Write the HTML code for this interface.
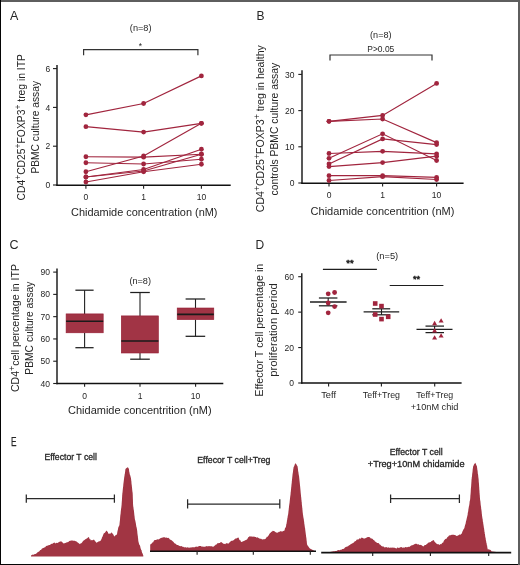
<!DOCTYPE html>
<html><head><meta charset="utf-8"><style>
html,body{margin:0;padding:0;background:#fff;}
#wrap{position:relative;width:520px;height:565px;overflow:hidden;background:#fff;}
svg{position:absolute;left:0;top:0;will-change:transform;font-family:"Liberation Sans",sans-serif;}
.b{position:absolute;}
</style></head><body><div id="wrap">
<svg width="520" height="565" viewBox="0 0 520 565">
<text x="10" y="20" font-size="12.5" text-anchor="start" fill="#262626" >A</text>
<text x="256.5" y="20.2" font-size="12" text-anchor="start" fill="#262626" >B</text>
<text x="9.5" y="249.1" font-size="12.5" text-anchor="start" fill="#262626" >C</text>
<text x="255.5" y="248.5" font-size="12" text-anchor="start" fill="#262626" >D</text>
<text x="11" y="446.2" font-size="12" text-anchor="start" fill="#262626" textLength="5.5" lengthAdjust="spacingAndGlyphs" stroke="#262626" stroke-width="0.25">E</text>
<line x1="57" y1="65" x2="57" y2="186" stroke="#111" stroke-width="1.4"/>
<line x1="56.3" y1="185.3" x2="230.7" y2="185.3" stroke="#111" stroke-width="1.4"/>
<line x1="53" y1="185.0" x2="57" y2="185.0" stroke="#1e1e1e" stroke-width="1.1"/>
<text x="50.3" y="188.2" font-size="9.8" text-anchor="end" fill="#262626" textLength="4.75" lengthAdjust="spacingAndGlyphs" >0</text>
<line x1="53" y1="146.2" x2="57" y2="146.2" stroke="#1e1e1e" stroke-width="1.1"/>
<text x="50.3" y="149.39999999999998" font-size="9.8" text-anchor="end" fill="#262626" textLength="4.75" lengthAdjust="spacingAndGlyphs" >2</text>
<line x1="53" y1="107.4" x2="57" y2="107.4" stroke="#1e1e1e" stroke-width="1.1"/>
<text x="50.3" y="110.60000000000001" font-size="9.8" text-anchor="end" fill="#262626" textLength="4.75" lengthAdjust="spacingAndGlyphs" >4</text>
<line x1="53" y1="68.60000000000001" x2="57" y2="68.60000000000001" stroke="#1e1e1e" stroke-width="1.1"/>
<text x="50.3" y="71.80000000000001" font-size="9.8" text-anchor="end" fill="#262626" textLength="4.75" lengthAdjust="spacingAndGlyphs" >6</text>
<line x1="85.9" y1="185" x2="85.9" y2="188.8" stroke="#1e1e1e" stroke-width="1.1"/>
<text x="85.9" y="200.1" font-size="9.8" text-anchor="middle" fill="#262626" textLength="4.75" lengthAdjust="spacingAndGlyphs" >0</text>
<line x1="143.6" y1="185" x2="143.6" y2="188.8" stroke="#1e1e1e" stroke-width="1.1"/>
<text x="143.6" y="200.1" font-size="9.8" text-anchor="middle" fill="#262626" textLength="4.75" lengthAdjust="spacingAndGlyphs" >1</text>
<line x1="201.4" y1="185" x2="201.4" y2="188.8" stroke="#1e1e1e" stroke-width="1.1"/>
<text x="201.4" y="200.1" font-size="9.8" text-anchor="middle" fill="#262626" textLength="9.5" lengthAdjust="spacingAndGlyphs" >10</text>
<text x="71" y="216.3" font-size="10.4" text-anchor="start" fill="#262626" textLength="146.5" lengthAdjust="spacingAndGlyphs" >Chidamide concentration (nM)</text>
<text transform="translate(25.2,127.3) rotate(-90)" x="0" y="0" font-size="10.4" text-anchor="middle" fill="#262626" textLength="146.4" lengthAdjust="spacingAndGlyphs">CD4<tspan dy="-4.2" font-size="8.6">+</tspan><tspan dy="4.2">CD25<tspan dy="-4.2" font-size="8.6">+</tspan><tspan dy="4.2">FOXP3<tspan dy="-4.2" font-size="8.6">+</tspan><tspan dy="4.2"> treg in ITP</tspan></tspan></tspan></text>
<text transform="translate(39,127.3) rotate(-90)" x="0" y="0" font-size="10.4" text-anchor="middle" fill="#262626" textLength="92.6" lengthAdjust="spacingAndGlyphs">PBMC culture assay</text>
<text x="140.7" y="31.0" font-size="8.2" text-anchor="middle" fill="#262626" textLength="21.7" lengthAdjust="spacingAndGlyphs" >(n=8)</text>
<text x="140.5" y="49.3" font-size="8.5" text-anchor="middle" fill="#262626" >*</text>
<path d="M83.6,55.3 V49.7 H197.9 V55.3" fill="none" stroke="#333" stroke-width="1.2"/>
<polyline points="85.9,114.8 143.6,103.5 201.4,75.9" fill="none" stroke="#a1253e" stroke-width="1.2"/>
<polyline points="85.9,126.7 143.6,132.1 201.4,123.3" fill="none" stroke="#a1253e" stroke-width="1.2"/>
<polyline points="85.9,171.75 143.6,156 201.4,123.3" fill="none" stroke="#a1253e" stroke-width="1.2"/>
<polyline points="85.9,156.75 143.6,157.2 201.4,154.25" fill="none" stroke="#a1253e" stroke-width="1.2"/>
<polyline points="85.9,162.75 143.6,164 201.4,159.25" fill="none" stroke="#a1253e" stroke-width="1.2"/>
<polyline points="85.9,177 143.6,169.5 201.4,149.25" fill="none" stroke="#a1253e" stroke-width="1.2"/>
<polyline points="85.9,182 143.6,171.75 201.4,164.25" fill="none" stroke="#a1253e" stroke-width="1.2"/>
<polyline points="85.9,177 143.6,171 201.4,154.25" fill="none" stroke="#a1253e" stroke-width="1.2"/>
<circle cx="85.9" cy="114.8" r="2.4" fill="#a1253e"/>
<circle cx="143.6" cy="103.5" r="2.4" fill="#a1253e"/>
<circle cx="201.4" cy="75.9" r="2.4" fill="#a1253e"/>
<circle cx="85.9" cy="126.7" r="2.4" fill="#a1253e"/>
<circle cx="143.6" cy="132.1" r="2.4" fill="#a1253e"/>
<circle cx="201.4" cy="123.3" r="2.4" fill="#a1253e"/>
<circle cx="85.9" cy="171.75" r="2.4" fill="#a1253e"/>
<circle cx="143.6" cy="156" r="2.4" fill="#a1253e"/>
<circle cx="201.4" cy="123.3" r="2.4" fill="#a1253e"/>
<circle cx="85.9" cy="156.75" r="2.4" fill="#a1253e"/>
<circle cx="143.6" cy="157.2" r="2.4" fill="#a1253e"/>
<circle cx="201.4" cy="154.25" r="2.4" fill="#a1253e"/>
<circle cx="85.9" cy="162.75" r="2.4" fill="#a1253e"/>
<circle cx="143.6" cy="164" r="2.4" fill="#a1253e"/>
<circle cx="201.4" cy="159.25" r="2.4" fill="#a1253e"/>
<circle cx="85.9" cy="177" r="2.4" fill="#a1253e"/>
<circle cx="143.6" cy="169.5" r="2.4" fill="#a1253e"/>
<circle cx="201.4" cy="149.25" r="2.4" fill="#a1253e"/>
<circle cx="85.9" cy="182" r="2.4" fill="#a1253e"/>
<circle cx="143.6" cy="171.75" r="2.4" fill="#a1253e"/>
<circle cx="201.4" cy="164.25" r="2.4" fill="#a1253e"/>
<circle cx="85.9" cy="177" r="2.4" fill="#a1253e"/>
<circle cx="143.6" cy="171" r="2.4" fill="#a1253e"/>
<circle cx="201.4" cy="154.25" r="2.4" fill="#a1253e"/>
<line x1="302" y1="70.2" x2="302" y2="183.9" stroke="#111" stroke-width="1.4"/>
<line x1="301.3" y1="183.2" x2="463.6" y2="183.2" stroke="#111" stroke-width="1.4"/>
<line x1="298.3" y1="183.0" x2="302" y2="183.0" stroke="#1e1e1e" stroke-width="1.1"/>
<text x="294.5" y="186.2" font-size="9.8" text-anchor="end" fill="#262626" textLength="4.75" lengthAdjust="spacingAndGlyphs" >0</text>
<line x1="298.3" y1="146.8" x2="302" y2="146.8" stroke="#1e1e1e" stroke-width="1.1"/>
<text x="294.5" y="150.0" font-size="9.8" text-anchor="end" fill="#262626" textLength="9.5" lengthAdjust="spacingAndGlyphs" >10</text>
<line x1="298.3" y1="110.6" x2="302" y2="110.6" stroke="#1e1e1e" stroke-width="1.1"/>
<text x="294.5" y="113.8" font-size="9.8" text-anchor="end" fill="#262626" textLength="9.5" lengthAdjust="spacingAndGlyphs" >20</text>
<line x1="298.3" y1="74.39999999999999" x2="302" y2="74.39999999999999" stroke="#1e1e1e" stroke-width="1.1"/>
<text x="294.5" y="77.6" font-size="9.8" text-anchor="end" fill="#262626" textLength="9.5" lengthAdjust="spacingAndGlyphs" >30</text>
<line x1="329" y1="183" x2="329" y2="186.6" stroke="#1e1e1e" stroke-width="1.1"/>
<text x="329" y="198.4" font-size="9.8" text-anchor="middle" fill="#262626" textLength="4.75" lengthAdjust="spacingAndGlyphs" >0</text>
<line x1="382.6" y1="183" x2="382.6" y2="186.6" stroke="#1e1e1e" stroke-width="1.1"/>
<text x="382.6" y="198.4" font-size="9.8" text-anchor="middle" fill="#262626" textLength="4.75" lengthAdjust="spacingAndGlyphs" >1</text>
<line x1="436.6" y1="183" x2="436.6" y2="186.6" stroke="#1e1e1e" stroke-width="1.1"/>
<text x="436.6" y="198.4" font-size="9.8" text-anchor="middle" fill="#262626" textLength="9.5" lengthAdjust="spacingAndGlyphs" >10</text>
<text x="310.6" y="214.5" font-size="10.4" text-anchor="start" fill="#262626" textLength="143.8" lengthAdjust="spacingAndGlyphs" >Chidamide concentrition (nM)</text>
<text transform="translate(264,128.65) rotate(-90)" x="0" y="0" font-size="10.4" text-anchor="middle" fill="#262626" textLength="167.1" lengthAdjust="spacingAndGlyphs">CD4<tspan dy="-4.2" font-size="8.6">+</tspan><tspan dy="4.2">CD25<tspan dy="-4.2" font-size="8.6">+</tspan><tspan dy="4.2">FOXP3<tspan dy="-4.2" font-size="8.6">+</tspan><tspan dy="4.2"> treg in healthy</tspan></tspan></tspan></text>
<text transform="translate(278,129.15) rotate(-90)" x="0" y="0" font-size="10.4" text-anchor="middle" fill="#262626" textLength="132.7" lengthAdjust="spacingAndGlyphs">controls PBMC culture assay</text>
<text x="380.8" y="38.1" font-size="8.2" text-anchor="middle" fill="#262626" textLength="21.5" lengthAdjust="spacingAndGlyphs" >(n=8)</text>
<text x="380.8" y="51.5" font-size="8.3" text-anchor="middle" fill="#262626" textLength="27" lengthAdjust="spacingAndGlyphs" >P&gt;0.05</text>
<path d="M330,60.5 V55 H432 V60.5" fill="none" stroke="#333" stroke-width="1.2"/>
<polyline points="329,121.3 382.6,115.4 436.6,83.4" fill="none" stroke="#a1253e" stroke-width="1.2"/>
<polyline points="329,121.3 382.6,119 436.6,142.6" fill="none" stroke="#a1253e" stroke-width="1.2"/>
<polyline points="329,153.5 382.6,151.3 436.6,153.8" fill="none" stroke="#a1253e" stroke-width="1.2"/>
<polyline points="329,158.3 382.6,133.8 436.6,160.5" fill="none" stroke="#a1253e" stroke-width="1.2"/>
<polyline points="329,164 382.6,138.9 436.6,144.6" fill="none" stroke="#a1253e" stroke-width="1.2"/>
<polyline points="329,166.6 382.6,162.6 436.6,156.2" fill="none" stroke="#a1253e" stroke-width="1.2"/>
<polyline points="329,175.7 382.6,175.7 436.6,177.4" fill="none" stroke="#a1253e" stroke-width="1.2"/>
<polyline points="329,180.5 382.6,176.7 436.6,179.5" fill="none" stroke="#a1253e" stroke-width="1.2"/>
<circle cx="329" cy="121.3" r="2.4" fill="#a1253e"/>
<circle cx="382.6" cy="115.4" r="2.4" fill="#a1253e"/>
<circle cx="436.6" cy="83.4" r="2.4" fill="#a1253e"/>
<circle cx="329" cy="121.3" r="2.4" fill="#a1253e"/>
<circle cx="382.6" cy="119" r="2.4" fill="#a1253e"/>
<circle cx="436.6" cy="142.6" r="2.4" fill="#a1253e"/>
<circle cx="329" cy="153.5" r="2.4" fill="#a1253e"/>
<circle cx="382.6" cy="151.3" r="2.4" fill="#a1253e"/>
<circle cx="436.6" cy="153.8" r="2.4" fill="#a1253e"/>
<circle cx="329" cy="158.3" r="2.4" fill="#a1253e"/>
<circle cx="382.6" cy="133.8" r="2.4" fill="#a1253e"/>
<circle cx="436.6" cy="160.5" r="2.4" fill="#a1253e"/>
<circle cx="329" cy="164" r="2.4" fill="#a1253e"/>
<circle cx="382.6" cy="138.9" r="2.4" fill="#a1253e"/>
<circle cx="436.6" cy="144.6" r="2.4" fill="#a1253e"/>
<circle cx="329" cy="166.6" r="2.4" fill="#a1253e"/>
<circle cx="382.6" cy="162.6" r="2.4" fill="#a1253e"/>
<circle cx="436.6" cy="156.2" r="2.4" fill="#a1253e"/>
<circle cx="329" cy="175.7" r="2.4" fill="#a1253e"/>
<circle cx="382.6" cy="175.7" r="2.4" fill="#a1253e"/>
<circle cx="436.6" cy="177.4" r="2.4" fill="#a1253e"/>
<circle cx="329" cy="180.5" r="2.4" fill="#a1253e"/>
<circle cx="382.6" cy="176.7" r="2.4" fill="#a1253e"/>
<circle cx="436.6" cy="179.5" r="2.4" fill="#a1253e"/>
<line x1="57" y1="268.6" x2="57" y2="384.2" stroke="#111" stroke-width="1.4"/>
<line x1="56.3" y1="383.5" x2="223.3" y2="383.5" stroke="#111" stroke-width="1.4"/>
<line x1="53.2" y1="383.5" x2="57" y2="383.5" stroke="#1e1e1e" stroke-width="1.1"/>
<text x="49.9" y="386.6" font-size="9.8" text-anchor="end" fill="#262626" textLength="9.5" lengthAdjust="spacingAndGlyphs" >40</text>
<line x1="53.2" y1="361.22" x2="57" y2="361.22" stroke="#1e1e1e" stroke-width="1.1"/>
<text x="49.9" y="364.32000000000005" font-size="9.8" text-anchor="end" fill="#262626" textLength="9.5" lengthAdjust="spacingAndGlyphs" >50</text>
<line x1="53.2" y1="338.94" x2="57" y2="338.94" stroke="#1e1e1e" stroke-width="1.1"/>
<text x="49.9" y="342.04" font-size="9.8" text-anchor="end" fill="#262626" textLength="9.5" lengthAdjust="spacingAndGlyphs" >60</text>
<line x1="53.2" y1="316.65999999999997" x2="57" y2="316.65999999999997" stroke="#1e1e1e" stroke-width="1.1"/>
<text x="49.9" y="319.76" font-size="9.8" text-anchor="end" fill="#262626" textLength="9.5" lengthAdjust="spacingAndGlyphs" >70</text>
<line x1="53.2" y1="294.38" x2="57" y2="294.38" stroke="#1e1e1e" stroke-width="1.1"/>
<text x="49.9" y="297.48" font-size="9.8" text-anchor="end" fill="#262626" textLength="9.5" lengthAdjust="spacingAndGlyphs" >80</text>
<line x1="53.2" y1="272.1" x2="57" y2="272.1" stroke="#1e1e1e" stroke-width="1.1"/>
<text x="49.9" y="275.20000000000005" font-size="9.8" text-anchor="end" fill="#262626" textLength="9.5" lengthAdjust="spacingAndGlyphs" >90</text>
<line x1="84.6" y1="383.5" x2="84.6" y2="386.8" stroke="#1e1e1e" stroke-width="1.1"/>
<text x="84.6" y="398.6" font-size="9.8" text-anchor="middle" fill="#262626" textLength="4.75" lengthAdjust="spacingAndGlyphs" >0</text>
<line x1="140" y1="383.5" x2="140" y2="386.8" stroke="#1e1e1e" stroke-width="1.1"/>
<text x="140" y="398.6" font-size="9.8" text-anchor="middle" fill="#262626" textLength="4.75" lengthAdjust="spacingAndGlyphs" >1</text>
<line x1="195.6" y1="383.5" x2="195.6" y2="386.8" stroke="#1e1e1e" stroke-width="1.1"/>
<text x="195.6" y="398.6" font-size="9.8" text-anchor="middle" fill="#262626" textLength="9.5" lengthAdjust="spacingAndGlyphs" >10</text>
<text x="68" y="414.4" font-size="10.4" text-anchor="start" fill="#262626" textLength="143.7" lengthAdjust="spacingAndGlyphs" >Chidamide concentrition (nM)</text>
<text transform="translate(18.8,328) rotate(-90)" x="0" y="0" font-size="10.4" text-anchor="middle" fill="#262626" textLength="128" lengthAdjust="spacingAndGlyphs">CD4<tspan dy="-4.2" font-size="8.6">+</tspan><tspan dy="4.2">cell percentage in ITP</tspan></text>
<text transform="translate(32.8,328.1) rotate(-90)" x="0" y="0" font-size="10.4" text-anchor="middle" fill="#262626" textLength="93.1" lengthAdjust="spacingAndGlyphs">PBMC culture assay</text>
<text x="140.2" y="283.7" font-size="8.2" text-anchor="middle" fill="#262626" textLength="21.6" lengthAdjust="spacingAndGlyphs" >(n=8)</text>
<line x1="84.6" y1="290.2" x2="84.6" y2="313.9" stroke="#222" stroke-width="1.1"/>
<line x1="84.6" y1="332.8" x2="84.6" y2="347.7" stroke="#222" stroke-width="1.1"/>
<line x1="75.4" y1="290.2" x2="93.6" y2="290.2" stroke="#1e1e1e" stroke-width="1.25"/>
<line x1="75.4" y1="347.7" x2="93.6" y2="347.7" stroke="#1e1e1e" stroke-width="1.25"/>
<rect x="66.1" y="313.9" width="37.10000000000001" height="18.900000000000034" fill="#a13445" stroke="#961d33" stroke-width="0.6"/>
<line x1="66.1" y1="321.2" x2="103.2" y2="321.2" stroke="#1a1a1a" stroke-width="1.6"/>
<line x1="140" y1="292.5" x2="140" y2="315.9" stroke="#222" stroke-width="1.1"/>
<line x1="140" y1="353" x2="140" y2="359.2" stroke="#222" stroke-width="1.1"/>
<line x1="130.2" y1="292.5" x2="149.8" y2="292.5" stroke="#1e1e1e" stroke-width="1.25"/>
<line x1="130.2" y1="359.2" x2="149.8" y2="359.2" stroke="#1e1e1e" stroke-width="1.25"/>
<rect x="121.3" y="315.9" width="37.10000000000001" height="37.10000000000002" fill="#a13445" stroke="#961d33" stroke-width="0.6"/>
<line x1="121.3" y1="341" x2="158.4" y2="341" stroke="#1a1a1a" stroke-width="1.6"/>
<line x1="195.5" y1="299" x2="195.5" y2="308" stroke="#222" stroke-width="1.1"/>
<line x1="195.5" y1="319.6" x2="195.5" y2="336.3" stroke="#222" stroke-width="1.1"/>
<line x1="185.6" y1="299" x2="205.2" y2="299" stroke="#1e1e1e" stroke-width="1.25"/>
<line x1="185.6" y1="336.3" x2="205.2" y2="336.3" stroke="#1e1e1e" stroke-width="1.25"/>
<rect x="177.2" y="308" width="36.60000000000002" height="11.600000000000023" fill="#a13445" stroke="#961d33" stroke-width="0.6"/>
<line x1="177.2" y1="314.4" x2="213.8" y2="314.4" stroke="#1a1a1a" stroke-width="1.6"/>
<line x1="301.8" y1="273.3" x2="301.8" y2="383.7" stroke="#111" stroke-width="1.4"/>
<line x1="301.1" y1="383" x2="461.6" y2="383" stroke="#111" stroke-width="1.4"/>
<line x1="298.2" y1="383.0" x2="301.5" y2="383.0" stroke="#1e1e1e" stroke-width="1.1"/>
<text x="294" y="386.1" font-size="9.8" text-anchor="end" fill="#262626" textLength="4.75" lengthAdjust="spacingAndGlyphs" >0</text>
<line x1="298.2" y1="347.56600000000003" x2="301.5" y2="347.56600000000003" stroke="#1e1e1e" stroke-width="1.1"/>
<text x="294" y="350.66600000000005" font-size="9.8" text-anchor="end" fill="#262626" textLength="9.5" lengthAdjust="spacingAndGlyphs" >20</text>
<line x1="298.2" y1="312.132" x2="301.5" y2="312.132" stroke="#1e1e1e" stroke-width="1.1"/>
<text x="294" y="315.232" font-size="9.8" text-anchor="end" fill="#262626" textLength="9.5" lengthAdjust="spacingAndGlyphs" >40</text>
<line x1="298.2" y1="276.698" x2="301.5" y2="276.698" stroke="#1e1e1e" stroke-width="1.1"/>
<text x="294" y="279.798" font-size="9.8" text-anchor="end" fill="#262626" textLength="9.5" lengthAdjust="spacingAndGlyphs" >60</text>
<line x1="328.6" y1="383" x2="328.6" y2="386.5" stroke="#1e1e1e" stroke-width="1.1"/>
<line x1="381.4" y1="383" x2="381.4" y2="386.5" stroke="#1e1e1e" stroke-width="1.1"/>
<line x1="434.7" y1="383" x2="434.7" y2="386.5" stroke="#1e1e1e" stroke-width="1.1"/>
<text x="328.6" y="398.4" font-size="9.2" text-anchor="middle" fill="#262626" textLength="14.8" lengthAdjust="spacingAndGlyphs" >Teff</text>
<text x="381.4" y="398.4" font-size="9.2" text-anchor="middle" fill="#262626" textLength="37.2" lengthAdjust="spacingAndGlyphs" >Teff+Treg</text>
<text x="434.7" y="398.4" font-size="9.2" text-anchor="middle" fill="#262626" textLength="37" lengthAdjust="spacingAndGlyphs" >Teff+Treg</text>
<text x="434.6" y="409.9" font-size="9.2" text-anchor="middle" fill="#262626" textLength="47.7" lengthAdjust="spacingAndGlyphs" >+10nM chid</text>
<text transform="translate(263.3,330.2) rotate(-90)" x="0" y="0" font-size="10.4" text-anchor="middle" fill="#262626" textLength="133" lengthAdjust="spacingAndGlyphs">Effector T cell percentage in</text>
<text transform="translate(277,330.05) rotate(-90)" x="0" y="0" font-size="10.4" text-anchor="middle" fill="#262626" textLength="93.6" lengthAdjust="spacingAndGlyphs">proliferation period</text>
<text x="387.2" y="259.2" font-size="8.2" text-anchor="middle" fill="#262626" textLength="22" lengthAdjust="spacingAndGlyphs" >(n=5)</text>
<line x1="322.9" y1="269.3" x2="376.9" y2="269.3" stroke="#1e1e1e" stroke-width="1.2"/>
<line x1="389.7" y1="285.5" x2="443.4" y2="285.5" stroke="#1e1e1e" stroke-width="1.2"/>
<text x="350" y="265.8" font-size="8.5" text-anchor="middle" fill="#262626" textLength="7.4" lengthAdjust="spacingAndGlyphs" stroke="#262626" stroke-width="0.5">**</text>
<text x="416.5" y="281.9" font-size="8.5" text-anchor="middle" fill="#262626" textLength="7.2" lengthAdjust="spacingAndGlyphs" stroke="#262626" stroke-width="0.5">**</text>
<line x1="310" y1="302" x2="346.6" y2="302" stroke="#1e1e1e" stroke-width="1.4"/>
<line x1="318.9" y1="298" x2="337.4" y2="298" stroke="#1e1e1e" stroke-width="1.25"/>
<line x1="318.9" y1="305.8" x2="337.4" y2="305.8" stroke="#1e1e1e" stroke-width="1.25"/>
<line x1="328.2" y1="298" x2="328.2" y2="305.8" stroke="#1e1e1e" stroke-width="1.1"/>
<circle cx="328.2" cy="293.8" r="2.4" fill="#a1253e"/>
<circle cx="334.6" cy="292.5" r="2.4" fill="#a1253e"/>
<circle cx="328.2" cy="303" r="2.4" fill="#a1253e"/>
<circle cx="334.6" cy="306.6" r="2.4" fill="#a1253e"/>
<circle cx="328.2" cy="312.8" r="2.4" fill="#a1253e"/>
<line x1="363.6" y1="311.9" x2="399.2" y2="311.9" stroke="#1e1e1e" stroke-width="1.4"/>
<line x1="372.3" y1="308.8" x2="390.2" y2="308.8" stroke="#1e1e1e" stroke-width="1.25"/>
<line x1="372.3" y1="314.8" x2="390.2" y2="314.8" stroke="#1e1e1e" stroke-width="1.25"/>
<line x1="381.5" y1="308.8" x2="381.5" y2="314.8" stroke="#1e1e1e" stroke-width="1.1"/>
<rect x="372.9" y="301.2" width="4.6" height="4.6" fill="#a1253e"/>
<rect x="379.2" y="303.8" width="4.6" height="4.6" fill="#a1253e"/>
<rect x="372.9" y="312.2" width="4.6" height="4.6" fill="#a1253e"/>
<rect x="379.2" y="316.8" width="4.6" height="4.6" fill="#a1253e"/>
<rect x="385.9" y="314.5" width="4.6" height="4.6" fill="#a1253e"/>
<line x1="416.5" y1="329.4" x2="452.5" y2="329.4" stroke="#1e1e1e" stroke-width="1.4"/>
<line x1="425.5" y1="326.1" x2="444" y2="326.1" stroke="#1e1e1e" stroke-width="1.25"/>
<line x1="425.5" y1="332.6" x2="444" y2="332.6" stroke="#1e1e1e" stroke-width="1.25"/>
<line x1="434.6" y1="326.1" x2="434.6" y2="332.6" stroke="#1e1e1e" stroke-width="1.1"/>
<path d="M434.6,320.8 L437.1,325.20000000000005 L432.1,325.20000000000005 Z" fill="#a1253e"/>
<path d="M441.1,318.2 L443.6,322.6 L438.6,322.6 Z" fill="#a1253e"/>
<path d="M434.6,328.0 L437.1,332.40000000000003 L432.1,332.40000000000003 Z" fill="#a1253e"/>
<path d="M441.1,333.2 L443.6,337.6 L438.6,337.6 Z" fill="#a1253e"/>
<path d="M434.6,335.2 L437.1,339.6 L432.1,339.6 Z" fill="#a1253e"/>
<text x="44.4" y="460.3" font-size="8.6" text-anchor="start" fill="#262626" textLength="52.5" lengthAdjust="spacingAndGlyphs" stroke="#262626" stroke-width="0.3">Effector T cell</text>
<text x="197.3" y="463" font-size="8.6" text-anchor="start" fill="#262626" textLength="73.1" lengthAdjust="spacingAndGlyphs" stroke="#262626" stroke-width="0.3">Effecor T cell+Treg</text>
<text x="416.2" y="455.2" font-size="8.6" text-anchor="middle" fill="#262626" textLength="52.9" lengthAdjust="spacingAndGlyphs" stroke="#262626" stroke-width="0.3">Effector T cell</text>
<text x="416.2" y="466.8" font-size="8.6" text-anchor="middle" fill="#262626" textLength="96.8" lengthAdjust="spacingAndGlyphs" stroke="#262626" stroke-width="0.3">+Treg+10nM chidamide</text>
<path d="M26.3,494.6 V502.8 M26.3,498.6 H114.4 M114.4,494.6 V502.8" fill="none" stroke="#2a2a2a" stroke-width="1.25"/>
<path d="M187.6,499.2 V508.5 M187.6,504.2 H279.8 M279.8,499.2 V508.5" fill="none" stroke="#2a2a2a" stroke-width="1.25"/>
<path d="M390.6,494.4 V502.9 M390.6,498.7 H459.4 M459.4,494.4 V502.9" fill="none" stroke="#2a2a2a" stroke-width="1.25"/>
<path d="M31,556.2 L31,555.6 L31.92,555.11 L32.84,554.62 L33.76,554.87 L34.68,553.93 L35.6,554.1 L36.36,553.57 L37.12,552.81 L37.88,551.9 L38.64,551.83 L39.4,551.25 L40.2,550.1 L41.0,549.89 L41.8,548.85 L42.6,548.23 L43.4,547.96 L44.2,547.4 L45.16,547.28 L46.12,546.03 L47.08,545.66 L48.04,545.62 L49.0,545.0 L49.88,545.07 L50.76,544.24 L51.64,543.63 L52.52,543.84 L53.4,542.9 L54.48,542.45 L55.55,543.39 L56.62,542.82 L57.7,543.1 L58.6,542.23 L59.5,541.73 L60.4,541.46 L61.3,541.2 L62.03,542.35 L62.77,542.45 L63.5,543.6 L64.45,543.36 L65.4,543.1 L66.35,542.48 L67.3,542.3 L68.3,541.97 L69.3,541.06 L70.3,540.68 L71.3,540.46 L72.3,540.4 L73.47,540.87 L74.63,540.85 L75.8,541.2 L76.57,541.5 L77.33,542.29 L78.1,542.7 L79.05,543.4 L80.0,544.2 L80.67,543.3 L81.35,543.17 L82.03,542.39 L82.7,541.5 L83.6,540.45 L84.5,540.05 L85.4,539.2 L86.18,538.65 L86.95,538.46 L87.72,537.73 L88.5,536.9 L89.08,537.54 L89.65,539.18 L90.22,539.1 L90.8,540.4 L91.8,540.04 L92.8,540.15 L93.8,539.6 L94.4,539.99 L95.0,541.14 L95.6,541.42 L96.2,542.7 L97.35,542.29 L98.5,541.5 L99.65,541.24 L100.8,540.4 L101.19,539.58 L101.58,539.01 L101.96,537.5 L102.35,537.01 L102.74,536.0 L103.12,535.09 L103.51,534.05 L103.9,533.2 L104.58,532.9 L105.25,532.34 L105.92,531.15 L106.6,530.5 L107.15,531.56 L107.7,531.77 L108.25,533.35 L108.8,534.0 L109.77,533.6 L110.73,533.41 L111.7,532.3 L112.28,533.51 L112.86,533.78 L113.44,534.75 L114.02,535.93 L114.6,536.6 L115.4,535.27 L116.2,534.96 L117.0,534.2 L117.2,532.77 L117.4,531.66 L117.6,530.53 L117.8,530.26 L118.0,528.9 L118.3,527.61 L118.6,526.86 L118.9,526.14 L119.2,525.79 L119.5,524.5 L119.59,523.06 L119.68,522.48 L119.77,521.61 L119.86,521.0 L119.95,519.95 L120.04,519.02 L120.13,517.4 L120.22,516.57 L120.31,515.52 L120.4,514.7 L120.52,514.15 L120.64,513.26 L120.76,511.41 L120.88,510.46 L121.0,509.56 L121.12,508.59 L121.24,507.89 L121.36,507.04 L121.48,505.71 L121.6,505.0 L121.66,503.51 L121.72,503.03 L121.77,502.03 L121.83,501.31 L121.89,500.79 L121.95,499.56 L122.01,498.43 L122.07,497.6 L122.12,496.72 L122.18,495.09 L122.24,495.08 L122.3,493.7 L122.41,493.04 L122.53,492.17 L122.64,491.11 L122.76,489.7 L122.87,488.73 L122.99,487.44 L123.1,486.9 L123.21,486.09 L123.32,484.49 L123.44,483.54 L123.55,482.73 L123.66,481.72 L123.78,480.95 L123.89,479.67 L124.0,479.2 L124.14,477.69 L124.29,476.9 L124.43,475.89 L124.57,475.22 L124.71,473.89 L124.86,473.87 L125.0,472.5 L125.17,471.49 L125.33,469.85 L125.5,469.1 L126.23,468.19 L126.97,467.67 L127.7,467.2 L128.25,467.8 L128.8,468.7 L128.97,469.24 L129.13,470.98 L129.3,472.09 L129.47,472.46 L129.63,473.43 L129.8,474.4 L130.1,474.92 L130.4,475.91 L130.7,477.15 L131.0,478.3 L131.1,479.0 L131.2,480.58 L131.3,480.8 L131.4,481.6 L131.5,483.58 L131.6,484.07 L131.7,485.0 L131.81,485.58 L131.92,486.98 L132.03,487.38 L132.14,488.9 L132.26,490.36 L132.37,491.2 L132.48,491.98 L132.59,492.47 L132.7,493.7 L132.73,494.5 L132.77,495.22 L132.8,496.82 L132.83,497.5 L132.87,498.72 L132.9,499.16 L132.93,499.99 L132.97,501.58 L133.0,502.71 L133.03,503.5 L133.07,504.4 L133.1,505.0 L133.22,506.26 L133.34,507.09 L133.46,507.44 L133.57,508.67 L133.69,509.4 L133.81,509.96 L133.93,510.87 L134.05,512.06 L134.17,512.95 L134.29,514.34 L134.41,515.54 L134.53,515.89 L134.64,517.34 L134.76,518.31 L134.88,519.19 L135.0,519.6 L135.18,520.33 L135.36,521.06 L135.55,521.94 L135.73,522.79 L135.91,523.68 L136.09,525.03 L136.27,526.21 L136.45,527.03 L136.64,527.51 L136.82,528.59 L137.0,529.3 L137.11,530.54 L137.21,530.66 L137.32,532.2 L137.43,533.38 L137.54,534.15 L137.64,535.02 L137.75,535.63 L137.86,536.2 L137.96,537.78 L138.07,538.19 L138.18,539.61 L138.29,540.7 L138.39,540.98 L138.5,542.0 L138.8,542.74 L139.1,544.19 L139.4,544.8 L139.7,545.04 L140.0,545.84 L140.3,546.72 L140.6,548.4 L140.9,548.8 L141.2,549.99 L141.5,550.11 L141.8,551.71 L142.1,552.73 L142.4,553.22 L142.7,553.74 L143.0,554.8 L143.3,555.6 L143.3,556.2 L143.3,556.5 L31,556.5 Z" fill="#a13543"/>
<path d="M150.2,551.1 L150.2,544.8 L151.05,543.79 L151.9,543.6 L152.47,542.22 L153.05,542.42 L153.62,541.21 L154.2,540.2 L155.17,539.95 L156.13,540.11 L157.1,539.28 L158.07,539.48 L159.03,539.14 L160.0,538.5 L160.92,537.94 L161.84,537.75 L162.76,537.55 L163.68,537.25 L164.6,537.3 L165.52,537.64 L166.44,537.52 L167.36,537.93 L168.28,537.85 L169.2,538.5 L170.07,539.65 L170.95,539.74 L171.82,540.55 L172.7,541.3 L173.55,542.12 L174.4,543.19 L175.25,543.39 L176.1,544.2 L176.97,545.11 L177.85,545.1 L178.72,545.59 L179.6,546.0 L180.52,546.33 L181.44,546.07 L182.36,546.83 L183.28,546.85 L184.2,547.5 L185.19,546.95 L186.17,547.83 L187.16,547.14 L188.14,547.47 L189.13,547.75 L190.11,547.56 L191.1,547.5 L192.07,547.19 L193.03,547.29 L194.0,547.21 L194.97,547.35 L195.93,546.48 L196.9,546.8 L197.93,546.63 L198.97,546.06 L200.0,546.1 L200.92,545.97 L201.84,546.64 L202.76,546.47 L203.68,546.65 L204.6,546.7 L205.75,546.59 L206.9,545.9 L207.89,546.44 L208.87,546.01 L209.86,546.28 L210.84,546.25 L211.83,546.34 L212.81,546.63 L213.8,546.5 L214.5,545.81 L215.2,545.26 L215.9,544.56 L216.6,544.43 L217.3,543.3 L218.18,543.22 L219.05,543.11 L219.93,542.89 L220.8,542.1 L221.65,542.26 L222.5,543.02 L223.35,543.86 L224.2,543.8 L225.12,544.13 L226.04,543.32 L226.96,543.26 L227.88,543.58 L228.8,543.6 L229.4,542.38 L230.0,542.1 L230.77,541.33 L231.53,540.66 L232.3,540.84 L233.07,540.48 L233.83,540.12 L234.6,539.2 L235.47,538.39 L236.35,538.59 L237.22,538.1 L238.1,537.5 L238.67,537.87 L239.23,539.45 L239.8,540.31 L240.37,540.26 L240.93,541.83 L241.5,542.1 L242.65,541.44 L243.8,541.0 L244.95,540.39 L246.1,539.8 L246.8,539.64 L247.5,538.77 L248.2,537.33 L248.9,536.92 L249.6,536.3 L250.73,536.45 L251.87,536.39 L253.0,536.7 L254.0,536.52 L255.0,537.0 L255.88,537.03 L256.75,537.69 L257.62,537.15 L258.5,537.9 L259.4,538.38 L260.3,538.68 L261.2,538.64 L262.1,539.6 L263.27,539.15 L264.43,539.2 L265.6,538.8 L266.2,538.06 L266.8,536.82 L267.4,537.08 L268.0,536.12 L268.6,535.57 L269.2,534.3 L269.9,533.17 L270.6,532.64 L271.3,531.69 L272.0,531.81 L272.7,530.8 L273.57,531.0 L274.45,531.29 L275.32,532.06 L276.2,532.6 L277.1,532.83 L278.0,532.5 L278.9,531.66 L279.8,531.7 L280.9,531.09 L282.0,531.71 L283.1,531.1 L284.2,530.8 L284.56,530.14 L284.92,528.59 L285.28,527.67 L285.64,527.49 L286.0,526.4 L286.16,525.37 L286.33,524.03 L286.49,524.03 L286.66,522.75 L286.82,521.98 L286.99,520.24 L287.15,520.14 L287.31,518.32 L287.48,518.25 L287.64,516.85 L287.81,515.77 L287.97,515.06 L288.14,514.52 L288.3,513.1 L288.41,511.91 L288.52,510.83 L288.63,510.33 L288.74,509.09 L288.85,508.01 L288.96,507.14 L289.07,506.08 L289.18,505.32 L289.29,504.51 L289.41,503.57 L289.52,503.14 L289.63,501.69 L289.74,500.99 L289.85,499.7 L289.96,498.96 L290.07,497.66 L290.18,496.99 L290.29,495.8 L290.4,495.4 L290.49,494.72 L290.59,493.59 L290.68,492.26 L290.78,491.65 L290.87,491.22 L290.97,489.38 L291.06,489.23 L291.16,487.87 L291.25,487.01 L291.35,486.45 L291.44,485.04 L291.54,484.23 L291.63,483.5 L291.73,482.89 L291.82,481.25 L291.92,480.86 L292.01,479.79 L292.11,478.78 L292.2,477.7 L292.33,476.63 L292.45,475.61 L292.58,474.32 L292.71,473.44 L292.84,472.41 L292.96,472.18 L293.09,470.69 L293.22,469.62 L293.35,468.57 L293.47,468.44 L293.6,467.1 L294.05,466.53 L294.5,465.34 L294.95,463.94 L295.4,463.2 L295.92,463.67 L296.45,464.47 L296.98,465.41 L297.5,466.2 L297.64,466.78 L297.78,468.06 L297.93,468.81 L298.07,470.54 L298.21,471.51 L298.35,472.0 L298.49,472.63 L298.63,474.38 L298.77,474.62 L298.92,475.63 L299.06,476.19 L299.2,477.7 L299.29,478.5 L299.39,479.54 L299.48,480.5 L299.58,481.1 L299.67,482.36 L299.77,482.74 L299.86,483.96 L299.96,484.7 L300.05,485.97 L300.15,486.51 L300.24,487.42 L300.34,488.66 L300.43,489.52 L300.53,490.84 L300.62,491.71 L300.72,492.88 L300.81,493.71 L300.91,494.71 L301.0,495.4 L301.09,496.75 L301.19,497.14 L301.28,498.0 L301.38,499.66 L301.47,499.67 L301.57,501.24 L301.66,502.08 L301.76,502.35 L301.85,504.15 L301.95,505.15 L302.04,505.79 L302.14,506.84 L302.23,507.85 L302.33,508.05 L302.42,509.4 L302.52,510.31 L302.61,511.61 L302.71,512.5 L302.8,513.1 L302.94,514.39 L303.07,515.06 L303.21,516.33 L303.35,517.03 L303.48,517.97 L303.62,518.39 L303.76,519.11 L303.89,520.15 L304.03,521.33 L304.17,521.98 L304.31,523.72 L304.44,524.34 L304.58,525.35 L304.72,526.28 L304.85,527.27 L304.99,527.99 L305.13,528.39 L305.26,530.2 L305.4,530.8 L305.52,532.02 L305.64,532.7 L305.76,533.68 L305.88,534.76 L306.0,535.06 L306.12,536.74 L306.24,537.15 L306.36,537.91 L306.48,539.06 L306.6,540.52 L306.72,540.89 L306.84,542.42 L306.96,543.63 L307.08,544.05 L307.2,545.0 L307.88,545.75 L308.55,546.73 L309.22,547.83 L309.9,548.5 L315.2,551.2 L315.2,551.2 L150.2,551.2 Z" fill="#a13543"/>
<path d="M328.8,552.3 L333.5,551.2 L334.52,551.34 L335.53,551.03 L336.55,550.91 L337.57,550.14 L338.58,550.06 L339.6,550.3 L340.52,549.67 L341.44,549.85 L342.36,549.0 L343.28,548.93 L344.2,548.5 L344.97,547.45 L345.73,546.98 L346.5,546.7 L347.27,546.62 L348.03,546.13 L348.8,545.4 L349.74,545.07 L350.68,544.13 L351.62,543.86 L352.56,543.28 L353.5,542.8 L354.26,542.1 L355.02,541.06 L355.78,541.25 L356.54,539.83 L357.3,539.5 L358.45,539.38 L359.6,538.2 L360.63,538.65 L361.67,537.6 L362.7,538.05 L363.73,538.42 L364.77,538.55 L365.8,538.0 L366.8,537.61 L367.8,537.08 L368.8,537.0 L369.83,537.18 L370.87,538.49 L371.9,538.5 L372.67,538.93 L373.45,540.09 L374.23,540.36 L375.0,541.5 L376.03,542.06 L377.07,543.06 L378.1,543.1 L378.87,543.28 L379.63,544.62 L380.4,544.86 L381.17,545.86 L381.93,546.24 L382.7,546.6 L383.62,546.52 L384.54,547.48 L385.46,547.24 L386.38,546.96 L387.3,547.7 L388.22,547.15 L389.14,547.69 L390.06,547.65 L390.98,547.48 L391.9,547.7 L392.88,547.43 L393.85,547.78 L394.82,547.87 L395.8,548.2 L396.72,548.39 L397.64,547.29 L398.56,547.94 L399.48,547.85 L400.4,547.3 L401.39,546.88 L402.37,547.77 L403.36,547.53 L404.34,547.74 L405.33,547.07 L406.31,547.16 L407.3,547.3 L408.27,546.8 L409.23,547.08 L410.2,546.25 L411.17,545.61 L412.13,545.3 L413.1,545.0 L413.95,544.45 L414.8,543.9 L415.65,543.66 L416.5,543.8 L417.38,544.42 L418.25,544.06 L419.12,545.03 L420.0,544.8 L420.85,544.92 L421.7,545.34 L422.55,546.01 L423.4,546.4 L424.18,545.44 L424.97,545.03 L425.75,545.05 L426.53,544.36 L427.32,543.66 L428.1,542.7 L428.97,542.41 L429.83,542.29 L430.7,541.88 L431.57,541.02 L432.43,540.77 L433.3,540.1 L434.0,540.4 L434.7,541.96 L435.4,542.45 L436.1,543.3 L436.98,544.0 L437.85,544.31 L438.73,544.34 L439.6,545.0 L440.48,543.93 L441.35,544.32 L442.23,542.87 L443.1,542.7 L443.55,541.62 L444.0,540.6 L444.69,539.74 L445.37,539.01 L446.06,538.81 L446.74,538.38 L447.43,536.91 L448.11,536.66 L448.8,535.8 L449.77,535.25 L450.73,535.2 L451.7,534.8 L452.67,534.85 L453.63,534.77 L454.6,534.93 L455.57,535.15 L456.53,536.08 L457.5,535.8 L458.48,535.3 L459.45,534.49 L460.42,534.75 L461.4,533.8 L461.83,533.52 L462.26,532.09 L462.69,530.92 L463.11,530.15 L463.54,529.21 L463.97,528.65 L464.4,528.0 L464.62,526.65 L464.85,525.91 L465.07,525.03 L465.29,524.48 L465.52,523.93 L465.74,522.87 L465.96,521.6 L466.18,520.71 L466.41,519.93 L466.63,518.86 L466.85,517.92 L467.08,516.72 L467.3,516.3 L467.45,515.13 L467.61,514.96 L467.76,513.11 L467.91,512.6 L468.06,511.81 L468.22,511.14 L468.37,509.5 L468.52,508.64 L468.67,507.69 L468.83,506.93 L468.98,506.05 L469.13,505.68 L469.28,504.64 L469.44,503.74 L469.59,501.88 L469.74,500.96 L469.89,500.78 L470.05,500.06 L470.2,498.7 L470.27,497.74 L470.33,496.94 L470.4,495.36 L470.47,494.87 L470.53,494.53 L470.6,493.49 L470.67,492.59 L470.73,491.79 L470.8,490.07 L470.87,488.98 L470.93,488.11 L471.0,487.58 L471.07,486.83 L471.13,486.19 L471.2,485.02 L471.27,484.0 L471.33,483.21 L471.4,481.94 L471.47,481.11 L471.53,479.62 L471.6,479.2 L471.71,478.61 L471.81,477.11 L471.92,476.96 L472.03,475.76 L472.14,474.48 L472.24,473.39 L472.35,472.63 L472.46,472.15 L472.56,471.32 L472.67,469.77 L472.78,468.83 L472.89,468.43 L472.99,467.59 L473.1,466.6 L473.6,465.5 L474.1,464.35 L474.6,463.79 L475.1,462.7 L475.58,463.14 L476.05,464.43 L476.52,465.58 L477.0,466.6 L477.11,468.0 L477.23,468.56 L477.34,469.72 L477.46,470.17 L477.57,470.81 L477.69,471.72 L477.8,473.41 L477.91,474.03 L478.03,474.49 L478.14,475.07 L478.26,476.5 L478.37,477.59 L478.49,478.21 L478.6,479.2 L478.67,479.86 L478.73,481.24 L478.8,482.45 L478.87,482.61 L478.93,483.33 L479.0,484.59 L479.07,485.61 L479.13,486.83 L479.2,487.23 L479.27,488.81 L479.33,489.68 L479.4,490.35 L479.47,490.95 L479.53,492.72 L479.6,492.92 L479.67,494.41 L479.73,494.69 L479.8,495.61 L479.87,497.13 L479.93,497.55 L480.0,498.7 L480.11,500.11 L480.22,500.53 L480.34,501.11 L480.45,502.07 L480.56,503.2 L480.67,504.39 L480.78,505.62 L480.89,505.65 L481.01,506.84 L481.12,507.56 L481.23,509.32 L481.34,509.32 L481.45,510.14 L481.56,511.06 L481.68,512.35 L481.79,513.82 L481.9,514.3 L482.03,515.64 L482.17,516.38 L482.3,517.59 L482.43,518.43 L482.57,518.68 L482.7,519.43 L482.83,521.17 L482.97,521.88 L483.1,522.01 L483.23,523.61 L483.37,524.21 L483.5,525.12 L483.63,525.99 L483.77,526.72 L483.9,528.0 L484.05,528.35 L484.19,529.56 L484.34,530.54 L484.48,532.1 L484.63,532.09 L484.78,533.91 L484.92,533.98 L485.07,535.04 L485.22,536.45 L485.36,537.35 L485.51,537.83 L485.65,538.3 L485.8,539.7 L485.98,540.55 L486.16,541.32 L486.35,542.81 L486.53,542.89 L486.71,543.96 L486.89,545.43 L487.07,545.36 L487.25,546.66 L487.44,547.98 L487.62,548.81 L487.8,549.4 L488.76,549.29 L489.72,549.69 L490.68,550.12 L491.64,551.46 L492.6,551.4 L498.5,552.3 L498.5,552.5 L328.8,552.5 Z" fill="#a13543"/>
<line x1="150" y1="551.2" x2="316" y2="551.2" stroke="#111" stroke-width="1.6"/>
<line x1="197.1" y1="551.1" x2="197.1" y2="554.7" stroke="#1e1e1e" stroke-width="1.1"/>
<line x1="253.3" y1="551.1" x2="253.3" y2="554.7" stroke="#1e1e1e" stroke-width="1.1"/>
<line x1="310.3" y1="551.1" x2="310.3" y2="554.7" stroke="#1e1e1e" stroke-width="1.1"/>
<line x1="321.2" y1="552.6" x2="511.2" y2="552.6" stroke="#111" stroke-width="1.6"/>
<line x1="372.7" y1="552.5" x2="372.7" y2="556" stroke="#1e1e1e" stroke-width="1.1"/>
<line x1="430.4" y1="552.5" x2="430.4" y2="556" stroke="#1e1e1e" stroke-width="1.1"/>
<line x1="488.7" y1="552.5" x2="488.7" y2="556" stroke="#1e1e1e" stroke-width="1.1"/>
</svg>
<div class="b" style="left:0;top:0;width:520px;height:2px;background:#5e5e5e"></div>
<div class="b" style="right:0;top:0;width:2px;height:565px;background:#5e5e5e"></div>
<div class="b" style="left:0;top:0;width:1px;height:565px;background:#050505"></div>
<div class="b" style="left:0;bottom:0;width:518px;height:1.5px;background:#050505"></div>
</div></body></html>
